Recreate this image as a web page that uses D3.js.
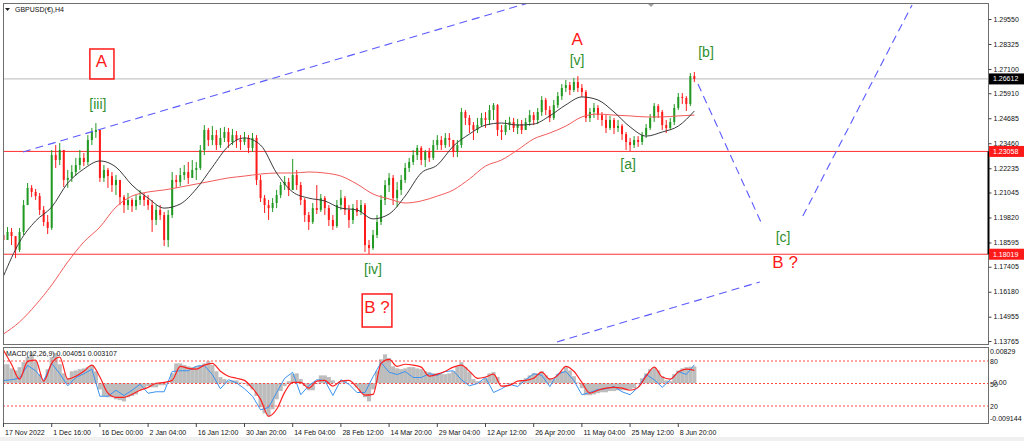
<!DOCTYPE html>
<html>
<head>
<meta charset="utf-8">
<script src="https://cdn.jsdelivr.net/npm/d3@7"></script>
<style>
  html, body { margin: 0; padding: 0; background: #fff; }
  svg { display: block; font-family: "Liberation Sans", Arial, sans-serif; }
</style>
</head>
<body>
<svg id="chart" width="1024" height="441"></svg>
<script>
// GBPUSD H4 candles, one per ~4 source bars
const firstOpen = 1.1896;
const closes = [
  1.1872, 1.1911, 1.1891, 1.1823, 1.1911, 1.2043, 1.2127, 1.2107, 1.2087, 1.2019,
  1.1960, 1.1931, 1.2288, 1.2264, 1.2313, 1.2166, 1.2176, 1.2205, 1.2239, 1.2274,
  1.2254, 1.2362, 1.2401, 1.2411, 1.2176, 1.2215, 1.2185, 1.2141, 1.2166, 1.2082,
  1.2043, 1.2068, 1.2038, 1.2068, 1.2087, 1.2068, 1.2043, 1.1970, 1.2019, 1.1994,
  1.1872, 1.1994, 1.2166, 1.2156, 1.2190, 1.2205, 1.2176, 1.2215, 1.2225, 1.2313,
  1.2411, 1.2362, 1.2386, 1.2337, 1.2372, 1.2401, 1.2352, 1.2386, 1.2362, 1.2352,
  1.2372, 1.2323, 1.2372, 1.2166, 1.2077, 1.2043, 1.2028, 1.2053, 1.2092, 1.2141,
  1.2156, 1.2117, 1.2190, 1.2141, 1.2068, 1.1994, 1.1960, 1.2028, 1.2019, 1.2077,
  1.2028, 1.1970, 1.1940, 1.2043, 1.2077, 1.2019, 1.1970, 1.2028, 1.2009, 1.2043,
  1.1847, 1.1832, 1.1896, 1.1960, 1.2068, 1.2141, 1.2176, 1.2077, 1.2117, 1.2166,
  1.2225, 1.2254, 1.2288, 1.2323, 1.2264, 1.2303, 1.2274, 1.2337, 1.2362, 1.2337,
  1.2372, 1.2362, 1.2303, 1.2337, 1.2499, 1.2470, 1.2435, 1.2411, 1.2435, 1.2470,
  1.2460, 1.2509, 1.2533, 1.2411, 1.2401, 1.2435, 1.2450, 1.2421, 1.2440, 1.2411,
  1.2450, 1.2484, 1.2460, 1.2499, 1.2558, 1.2509, 1.2470, 1.2533, 1.2577, 1.2617,
  1.2631, 1.2607, 1.2646, 1.2617, 1.2597, 1.2470, 1.2499, 1.2519, 1.2484, 1.2460,
  1.2421, 1.2460, 1.2421, 1.2431, 1.2391, 1.2352, 1.2337, 1.2362, 1.2352, 1.2386,
  1.2421, 1.2470, 1.2528, 1.2499, 1.2435, 1.2421, 1.2450, 1.2519, 1.2573, 1.2568,
  1.2538, 1.2675, 1.2661
];
const highs = [
  1.1955, 1.1935, 1.1930, 1.1872, 1.1930, 1.2068, 1.2151, 1.2141, 1.2122, 1.2102,
  1.2038, 1.1994, 1.2313, 1.2337, 1.2347, 1.2313, 1.2215, 1.2239, 1.2274, 1.2313,
  1.2298, 1.2386, 1.2421, 1.2445, 1.2411, 1.2239, 1.2225, 1.2205, 1.2190, 1.2166,
  1.2092, 1.2102, 1.2077, 1.2092, 1.2117, 1.2102, 1.2092, 1.2068, 1.2043, 1.2043,
  1.2009, 1.2019, 1.2205, 1.2190, 1.2225, 1.2239, 1.2254, 1.2264, 1.2254, 1.2337,
  1.2435, 1.2421, 1.2431, 1.2411, 1.2421, 1.2426, 1.2421, 1.2416, 1.2406, 1.2386,
  1.2401, 1.2386, 1.2396, 1.2386, 1.2190, 1.2092, 1.2068, 1.2077, 1.2117, 1.2156,
  1.2185, 1.2176, 1.2269, 1.2215, 1.2156, 1.2077, 1.2009, 1.2053, 1.2141, 1.2097,
  1.2087, 1.2043, 1.1994, 1.2068, 1.2117, 1.2087, 1.2043, 1.2048, 1.2068, 1.2068,
  1.2053, 1.1872, 1.1921, 1.1994, 1.2092, 1.2166, 1.2200, 1.2190, 1.2156, 1.2190,
  1.2249, 1.2274, 1.2313, 1.2337, 1.2332, 1.2313, 1.2323, 1.2362, 1.2386, 1.2381,
  1.2396, 1.2396, 1.2362, 1.2362, 1.2519, 1.2509, 1.2484, 1.2450, 1.2470, 1.2494,
  1.2499, 1.2533, 1.2543, 1.2538, 1.2435, 1.2460, 1.2475, 1.2470, 1.2465, 1.2460,
  1.2470, 1.2509, 1.2499, 1.2519, 1.2577, 1.2568, 1.2528, 1.2558, 1.2597, 1.2636,
  1.2656, 1.2646, 1.2666, 1.2675, 1.2636, 1.2607, 1.2519, 1.2543, 1.2533, 1.2499,
  1.2484, 1.2480, 1.2470, 1.2460, 1.2440, 1.2401, 1.2372, 1.2381, 1.2381, 1.2401,
  1.2440, 1.2489, 1.2543, 1.2538, 1.2509, 1.2460, 1.2470, 1.2538, 1.2592, 1.2592,
  1.2577, 1.2690, 1.2695
];
const lows = [
  1.1759, 1.1872, 1.1847, 1.1783, 1.1813, 1.1896, 1.2043, 1.2082, 1.2068, 1.1994,
  1.1940, 1.1901, 1.1921, 1.2225, 1.2239, 1.2131, 1.2127, 1.2156, 1.2185, 1.2215,
  1.2234, 1.2239, 1.2337, 1.2372, 1.2156, 1.2156, 1.2127, 1.2107, 1.2092, 1.2043,
  1.2004, 1.2019, 1.2009, 1.2019, 1.2043, 1.2038, 1.2019, 1.1911, 1.1945, 1.1970,
  1.1842, 1.1837, 1.1980, 1.2127, 1.2136, 1.2166, 1.2146, 1.2176, 1.2166, 1.2215,
  1.2288, 1.2332, 1.2337, 1.2313, 1.2323, 1.2352, 1.2323, 1.2337, 1.2323, 1.2313,
  1.2337, 1.2298, 1.2303, 1.2141, 1.2058, 1.2004, 1.1970, 1.2009, 1.2028, 1.2077,
  1.2117, 1.2087, 1.2117, 1.2117, 1.2043, 1.1960, 1.1921, 1.1950, 1.1999, 1.2009,
  1.1994, 1.1940, 1.1921, 1.1931, 1.2019, 1.1994, 1.1931, 1.1950, 1.1989, 1.1994,
  1.1813, 1.1803, 1.1823, 1.1881, 1.1945, 1.2043, 1.2107, 1.2043, 1.2033, 1.2092,
  1.2151, 1.2205, 1.2239, 1.2264, 1.2239, 1.2229, 1.2254, 1.2264, 1.2313, 1.2313,
  1.2323, 1.2328, 1.2278, 1.2278, 1.2323, 1.2435, 1.2396, 1.2362, 1.2396, 1.2426,
  1.2421, 1.2435, 1.2460, 1.2381, 1.2362, 1.2386, 1.2411, 1.2401, 1.2391, 1.2391,
  1.2421, 1.2431, 1.2435, 1.2440, 1.2480, 1.2484, 1.2450, 1.2460, 1.2519, 1.2558,
  1.2597, 1.2582, 1.2597, 1.2597, 1.2573, 1.2450, 1.2450, 1.2470, 1.2460, 1.2431,
  1.2396, 1.2411, 1.2391, 1.2401, 1.2362, 1.2313, 1.2308, 1.2323, 1.2328, 1.2337,
  1.2372, 1.2411, 1.2450, 1.2470, 1.2411, 1.2396, 1.2411, 1.2435, 1.2509, 1.2538,
  1.2504, 1.2528, 1.2646
];

// moving averages, one value every 4 candles
const maFast = [
  1.1695, 1.1862, 1.1965, 1.2033, 1.2151, 1.2220, 1.2259, 1.2229, 1.2141, 1.2077,
  1.2028, 1.2048, 1.2122, 1.2229, 1.2332, 1.2372, 1.2337, 1.2200, 1.2107, 1.2077,
  1.2063, 1.2028, 1.2019, 1.1975, 1.1999, 1.2087, 1.2200, 1.2239, 1.2332, 1.2391,
  1.2435, 1.2445, 1.2435, 1.2440, 1.2480, 1.2534, 1.2573, 1.2558, 1.2499, 1.2426,
  1.2381, 1.2401, 1.2430, 1.2504
];
const maSlow = [
  1.1411, 1.1470, 1.1553, 1.1651, 1.1764, 1.1862, 1.1935, 1.2033, 1.2087, 1.2107,
  1.2117, 1.2131, 1.2146, 1.2161, 1.2176, 1.2185, 1.2195, 1.2200, 1.2200, 1.2205,
  1.2200, 1.2185, 1.2146, 1.2097, 1.2073, 1.2053, 1.2063, 1.2087, 1.2117, 1.2171,
  1.2234, 1.2264, 1.2313, 1.2367, 1.2396, 1.2430, 1.2475, 1.2489, 1.2484, 1.2480,
  1.2475, 1.2475, 1.2480, 1.2484
];

// MACD histogram, one value per candle
const macdHist = [
  0.0046, 0.0046, 0.0036, 0.0031, 0.0039, 0.0051, 0.0063, 0.0075, 0.0053, 0.0022,
  0.0007, 0.0034, 0.0063, 0.0073, 0.0046, 0.0024, 0.0012, 0.0029, 0.0031, 0.0034,
  0.0036, 0.0039, 0.0044, 0.0029, -0.0015, -0.0031, -0.0034, -0.0034, -0.0039, -0.0041,
  -0.0044, -0.0034, -0.0031, -0.0027, -0.0017, -0.0012, -0.0007, -0.0010, -0.0010, -0.0005,
  -0.0005, 0.0001, 0.0024, 0.0048, 0.0048, 0.0044, 0.0041, 0.0039, 0.0041, 0.0044,
  0.0048, 0.0053, 0.0044, 0.0029, 0.0015, 0.0010, 0.0005, 0.0007, 0.0007, 0.0002,
  -0.0002, -0.0007, -0.0015, -0.0031, -0.0058, -0.0073, -0.0080, -0.0063, -0.0039, -0.0019,
  -0.0007, 0.0005, 0.0022, 0.0024, 0.0010, -0.0007, -0.0017, -0.0017, -0.0002, 0.0019,
  0.0019, 0.0015, 0.0007, 0.0000, 0.0002, 0.0005, 0.0000, -0.0002, -0.0010, -0.0022,
  -0.0034, -0.0044, -0.0015, 0.0029, 0.0058, 0.0070, 0.0061, 0.0041, 0.0036, 0.0034,
  0.0036, 0.0039, 0.0039, 0.0036, 0.0034, 0.0029, 0.0027, 0.0024, 0.0024, 0.0022,
  0.0022, 0.0024, 0.0029, 0.0041, 0.0051, 0.0039, 0.0027, 0.0010, 0.0005, 0.0005,
  0.0012, 0.0024, 0.0027, 0.0015, 0.0000, -0.0002, -0.0002, -0.0002, 0.0000, 0.0007,
  0.0012, 0.0019, 0.0024, 0.0024, 0.0029, 0.0019, 0.0012, 0.0010, 0.0022, 0.0029,
  0.0039, 0.0031, 0.0017, 0.0002, -0.0012, -0.0029, -0.0029, -0.0027, -0.0024, -0.0022,
  -0.0022, -0.0019, -0.0019, -0.0017, -0.0017, -0.0017, -0.0015, -0.0012, -0.0002, 0.0012,
  0.0024, 0.0034, 0.0039, 0.0031, 0.0017, 0.0007, 0.0005, 0.0022, 0.0031, 0.0036,
  0.0039, 0.0040, 0.0041
];
// signal line and oscillator, one value every 2 candles
const macdSignal = [
  0.0080, 0.0046, 0.0010, 0.0053, 0.0056, 0.0005, 0.0048, 0.0063, 0.0010, 0.0017,
  0.0029, 0.0044, 0.0015, -0.0024, -0.0034, -0.0034, -0.0027, -0.0017, -0.0010, 0.0000,
  0.0002, 0.0007, 0.0041, 0.0036, 0.0034, 0.0044, 0.0048, 0.0029, 0.0017, 0.0012,
  0.0007, -0.0012, -0.0039, -0.0080, -0.0063, -0.0022, 0.0002, 0.0002, -0.0012, 0.0005,
  0.0007, -0.0007, 0.0005, 0.0007, -0.0010, -0.0029, -0.0027, 0.0048, 0.0058, 0.0041,
  0.0046, 0.0044, 0.0039, 0.0017, 0.0022, 0.0029, 0.0039, 0.0044, 0.0029, 0.0012,
  0.0015, 0.0022, -0.0007, -0.0005, 0.0005, 0.0007, 0.0012, 0.0027, 0.0010, 0.0019,
  0.0041, 0.0029, 0.0002, -0.0024, -0.0017, -0.0012, -0.0010, -0.0012, -0.0017, -0.0010,
  0.0017, 0.0039, 0.0015, 0.0010, 0.0027, 0.0034, 0.0031
];
const oscillator = [
  54, 55, 57, 74, 67, 54, 77, 63, 47, 58,
  63, 69, 33, 33, 41, 34, 41, 49, 37, 39,
  39, 66, 67, 67, 73, 74, 62, 43, 55, 51,
  43, 33, 15, 18, 38, 57, 65, 35, 47, 55,
  54, 34, 55, 49, 38, 38, 59, 78, 65, 62,
  66, 58, 58, 63, 61, 66, 67, 55, 47, 50,
  58, 38, 43, 49, 46, 55, 63, 61, 46, 63,
  66, 54, 35, 38, 42, 43, 46, 39, 35, 45,
  62, 55, 45, 55, 66, 62, 75
];

const timeLabels = [
  "17 Nov 2022", "1 Dec 16:00", "16 Dec 00:00", "2 Jan 04:00", "16 Jan 12:00",
  "30 Jan 20:00", "14 Feb 04:00", "28 Feb 12:00", "14 Mar 20:00", "29 Mar 04:00",
  "12 Apr 12:00", "26 Apr 20:00", "11 May 04:00", "25 May 12:00", "8 Jun 20:00"
];
const priceTicks = [
  1.29550, 1.28325, 1.27100, 1.25910, 1.24685, 1.23460, 1.22235,
  1.21045, 1.19820, 1.18595, 1.17405, 1.16180, 1.14955, 1.13765
];
const lastPrice = 1.26612;
const levels = [1.23058, 1.18019];
const oscLevels = [80, 50, 20];
const macdMax = 0.00829;
const macdMin = -0.009144;

// Elliott wave drawing objects (candle index, price)
const trendLines = [
  [[4.85, 1.2303], [134.0, 1.3053]],
  [[137.8, 1.1372], [188.3, 1.1666]],
  [[172.9, 1.2636], [188.8, 1.1950]],
  [[199.0, 1.1989], [226.2, 1.3024]]
];
const waveLabels = [
  { text: "[iii]", i: 23.5, p: 1.2514 },
  { text: "[v]", i: 142.8, p: 1.2730 },
  { text: "[b]", i: 174.9, p: 1.2769 },
  { text: "[a]", i: 155.5, p: 1.2220 },
  { text: "[iv]", i: 92.0, p: 1.1705 },
  { text: "[c]", i: 194.1, p: 1.1862 }
];
const degreeLabels = [
  { text: "A", i: 24.4, p: 1.2720 },
  { text: "A", i: 142.8, p: 1.2828 },
  { text: "B ?", i: 93.0, p: 1.1514 },
  { text: "B ?", i: 194.6, p: 1.1734 }
];
const labelBoxes = [
  [[21.5, 1.2808], [27.5, 1.2661]],
  [[89.3, 1.1607], [96.7, 1.1445]]
];

(() => {
  const bull = "#229922";
  const bear = "#ff1a1a";
  const waveGreen = "#2f8f2f";
  const red = "#ff1a1a";
  const frame = "#6e6e6e";

  const left = 3, right = 988;
  const mainTop = 3, mainBottom = 344;
  const subTop = 347, subBottom = 423;

  const svg = d3.select("#chart");

  const x = d3.scaleLinear().domain([0, 172]).range([3.5, 3.5 + 172 * 4.0166]);
  const y = d3.scaleLinear().domain([1.13765, 1.2955]).range([341, 19]);
  const yMacd = d3.scaleLinear().domain([macdMin, macdMax]).range([421, 349]);
  const yOsc = d3.scaleLinear().domain([20, 80]).range([406, 361]);

  svg.append("rect").attr("width", 1024).attr("height", 441).attr("fill", "#fff");
  svg.append("rect").attr("y", 437).attr("width", 1024).attr("height", 4).attr("fill", "#f0f0f0");

  const defs = svg.append("defs");
  defs.append("clipPath").attr("id", "clipMain")
    .append("rect").attr("x", left).attr("y", mainTop)
    .attr("width", right - left).attr("height", mainBottom - mainTop);
  defs.append("clipPath").attr("id", "clipSub")
    .append("rect").attr("x", left).attr("y", subTop)
    .attr("width", right - left).attr("height", subBottom - subTop);

  const main = svg.append("g").attr("clip-path", "url(#clipMain)");

  // horizontal levels and bid line
  main.append("line")
    .attr("x1", left).attr("x2", right)
    .attr("y1", y(lastPrice)).attr("y2", y(lastPrice))
    .attr("stroke", "#c8c8c8").attr("stroke-width", 1.2);

  main.selectAll("line.level").data(levels).join("line")
    .attr("class", "level")
    .attr("x1", left).attr("x2", right)
    .attr("y1", (d) => y(d)).attr("y2", (d) => y(d))
    .attr("stroke", "#ff3030").attr("stroke-width", 1);

  // candles
  const candles = closes.map((c, i) => {
    const o = i === 0 ? firstOpen : closes[i - 1];
    return { i, o, c, h: Math.max(highs[i], o, c), l: Math.min(lows[i], o, c) };
  });

  const cg = main.append("g");
  cg.selectAll("line.wick").data(candles).join("line")
    .attr("class", "wick")
    .attr("x1", (d) => x(d.i)).attr("x2", (d) => x(d.i))
    .attr("y1", (d) => y(d.h)).attr("y2", (d) => y(d.l))
    .attr("stroke", (d) => (d.c >= d.o ? bull : bear))
    .attr("stroke-width", 1);

  cg.selectAll("rect.body").data(candles).join("rect")
    .attr("class", "body")
    .attr("x", (d) => x(d.i) - 1)
    .attr("width", 2)
    .attr("y", (d) => y(Math.max(d.o, d.c)))
    .attr("height", (d) => Math.max(1, Math.abs(y(d.o) - y(d.c))))
    .attr("fill", (d) => (d.c >= d.o ? bull : bear));

  // moving averages
  const maLine = d3.line()
    .x((d, k) => x(k * 4))
    .y((d) => y(d))
    .curve(d3.curveMonotoneX);

  main.append("path").datum(maSlow)
    .attr("fill", "none").attr("stroke", "#f25a5a").attr("stroke-width", 1)
    .attr("d", maLine);
  main.append("path").datum(maFast)
    .attr("fill", "none").attr("stroke", "#3a3a3a").attr("stroke-width", 1)
    .attr("d", maLine);

  // trend lines
  main.selectAll("line.trend").data(trendLines).join("line")
    .attr("class", "trend")
    .attr("x1", (d) => x(d[0][0])).attr("y1", (d) => y(d[0][1]))
    .attr("x2", (d) => x(d[1][0])).attr("y2", (d) => y(d[1][1]))
    .attr("stroke", "#5a5aff").attr("stroke-width", 1.1)
    .attr("stroke-dasharray", "8 5");

  // label boxes and wave labels
  main.selectAll("rect.box").data(labelBoxes).join("rect")
    .attr("class", "box")
    .attr("x", (d) => x(d[0][0])).attr("y", (d) => y(d[0][1]))
    .attr("width", (d) => x(d[1][0]) - x(d[0][0]))
    .attr("height", (d) => y(d[1][1]) - y(d[0][1]))
    .attr("fill", "none").attr("stroke", red).attr("stroke-width", 1.5);

  main.selectAll("text.deg").data(degreeLabels).join("text")
    .attr("class", "deg")
    .attr("x", (d) => x(d.i)).attr("y", (d) => y(d.p))
    .attr("text-anchor", "middle")
    .attr("font-size", 17)
    .attr("fill", red)
    .text((d) => d.text);

  main.selectAll("text.wave").data(waveLabels).join("text")
    .attr("class", "wave")
    .attr("x", (d) => x(d.i)).attr("y", (d) => y(d.p))
    .attr("text-anchor", "middle")
    .attr("font-size", 14)
    .attr("fill", waveGreen)
    .text((d) => d.text);

  // title
  svg.append("path").attr("d", "M5,8 L10,8 L7.5,11 Z").attr("fill", "#222");
  svg.append("text").attr("x", 15).attr("y", 11.5)
    .attr("font-size", 7).attr("fill", "#111").text("GBPUSD(€),H4");
  svg.append("path").attr("d", "M647,3 L655,3 L651,7 Z").attr("fill", "#a0a0a0");

  // MACD panel
  const sub = svg.append("g").attr("clip-path", "url(#clipSub)");
  sub.selectAll("rect.hist").data(macdHist).join("rect")
    .attr("class", "hist")
    .attr("x", (d, i) => x(i) - 2.05)
    .attr("width", 4.1)
    .attr("y", (d) => yMacd(Math.max(d, 0)))
    .attr("height", (d) => Math.abs(yMacd(d) - yMacd(0)))
    .attr("fill", "#bdbdbd");

  sub.selectAll("line.osc").data(oscLevels).join("line")
    .attr("class", "osc")
    .attr("x1", left).attr("x2", right)
    .attr("y1", (d) => yOsc(d)).attr("y2", (d) => yOsc(d))
    .attr("stroke", "#ff4a4a").attr("stroke-width", 1)
    .attr("stroke-dasharray", "2 2");

  sub.append("path").datum(oscillator)
    .attr("fill", "none").attr("stroke", "#3b93f0").attr("stroke-width", 1)
    .attr("d", d3.line().x((d, k) => x(k * 2)).y((d) => yOsc(d)));

  sub.append("path").datum(macdSignal)
    .attr("fill", "none").attr("stroke", "#ff2020").attr("stroke-width", 1.2)
    .attr("d", d3.line().x((d, k) => x(k * 2)).y((d) => yMacd(d)).curve(d3.curveMonotoneX));

  svg.append("text").attr("x", 6).attr("y", 355.5)
    .attr("font-size", 7).attr("fill", "#111")
    .text("MACD(12,26,9) 0.004051 0.003107");

  // frames
  [[mainTop, mainBottom], [subTop, subBottom]].forEach(([t, b]) => {
    svg.append("rect").attr("x", left + 0.5).attr("y", t + 0.5)
      .attr("width", right - left).attr("height", b - t)
      .attr("fill", "none").attr("stroke", frame).attr("stroke-width", 1);
  });

  // price axis
  const axis = svg.append("g")
    .attr("transform", `translate(${right + 0.5},0)`)
    .call(d3.axisRight(y).tickValues(priceTicks).tickSize(3).tickPadding(2)
      .tickFormat(d3.format(".5f")));
  axis.select(".domain").remove();
  axis.selectAll("line").attr("stroke", "#444");
  axis.selectAll("text").attr("font-size", 7).attr("fill", "#111")
    .attr("font-family", "Liberation Sans, Arial, sans-serif");

  svg.append("line")
    .attr("x1", right + 0.5).attr("x2", right + 0.5)
    .attr("y1", y(levels[0])).attr("y2", y(levels[1]))
    .attr("stroke", "#000").attr("stroke-width", 2);

  const tags = [{ v: lastPrice, fill: "#000" }].concat(levels.map((v) => ({ v, fill: "#ff1a1a" })));
  const tagG = svg.selectAll("g.tag").data(tags).join("g").attr("class", "tag")
    .attr("transform", (d) => `translate(${right + 1},${y(d.v)})`);
  tagG.append("rect").attr("x", 0).attr("y", -5.5).attr("width", 35).attr("height", 11)
    .attr("fill", (d) => d.fill);
  tagG.append("text").attr("x", 4).attr("y", 2.5)
    .attr("font-size", 7).attr("fill", "#fff")
    .text((d) => d3.format(".5f")(d.v));

  // MACD panel scale labels (the 0.00 and 50 labels sit on top of each other, as in MT4)
  const subLabels = [
    { text: "0.00829", x: 990, y: yMacd(macdMax) + 4.5 },
    { text: "-0.009144", x: 990, y: yMacd(macdMin) - 0.5 },
    { text: "0.00", x: 993, y: yMacd(0) + 2 }
  ].concat(oscLevels.map((v) => ({ text: String(v), x: 990, y: yOsc(v) + 3 })));
  svg.selectAll("text.sub").data(subLabels).join("text")
    .attr("class", "sub")
    .attr("x", (d) => d.x).attr("y", (d) => d.y)
    .attr("font-size", 7).attr("fill", "#111")
    .text((d) => d.text);

  // time axis
  const tg = svg.selectAll("g.time").data(timeLabels).join("g").attr("class", "time")
    .attr("transform", (d, k) => `translate(${x(k * 12)},${subBottom})`);
  tg.append("line").attr("y1", 0).attr("y2", 4).attr("stroke", "#444");
  tg.append("text").attr("x", 1.5).attr("y", 12)
    .attr("font-size", 7).attr("fill", "#111")
    .text((d) => d);
})();
</script>
</body>
</html>
